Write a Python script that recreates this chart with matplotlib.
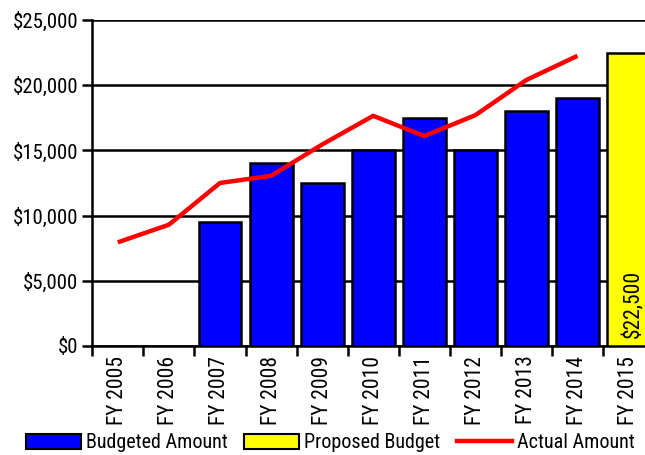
import matplotlib
matplotlib.use("Agg")
import matplotlib.pyplot as plt
from matplotlib.patches import Patch
from matplotlib.lines import Line2D

plt.rcParams['font.family'] = ['Roboto Condensed', 'DejaVu Sans']

categories = ["FY 2005", "FY 2006", "FY 2007", "FY 2008", "FY 2009", "FY 2010",
              "FY 2011", "FY 2012", "FY 2013", "FY 2014", "FY 2015"]
budgeted = [0, 0, 9500, 14000, 12500, 15000, 17500, 15000, 18000, 19000, 0]
proposed = [0, 0, 0, 0, 0, 0, 0, 0, 0, 0, 22500]
actual = [7950, 9300, 12500, 13050, 15450, 17650, 16100, 17700, 20400, 22250]
yticks = [0, 5000, 10000, 15000, 20000, 25000]
ytick_labels = ["$0", "$5,000", "$10,000", "$15,000", "$20,000", "$25,000"]

FS = 14.5
FSX = 15.5
fig = plt.figure(figsize=(6.45, 4.55), dpi=100)
ax = fig.add_axes([0.1431, 0.2396, 0.871, 0.7165])

x = list(range(len(categories)))
bw = 0.84
for i in x:
    if budgeted[i] > 0:
        ax.bar(i, budgeted[i], width=bw, color="#0000FF", edgecolor="black", linewidth=1.8, zorder=3)
    if proposed[i] > 0:
        ax.bar(i, proposed[i], width=bw, color="#FFFF00", edgecolor="black", linewidth=1.8, zorder=3)
        ax.text(i + 0.09, 600, "$22,500", rotation=90, ha="center", va="bottom",
                fontsize=FSX, zorder=5)

ax.plot(x[:len(actual)], actual, color="#FF0000", linewidth=3.2, zorder=4, solid_capstyle="butt")

ax.set_xlim(-0.5, len(categories) - 0.5)
ax.set_ylim(0, 25000)
ax.set_yticks(yticks)
ax.set_yticklabels(ytick_labels, fontsize=15)
ax.yaxis.grid(True, color="black", linewidth=1.8, zorder=0)
ax.set_axisbelow(True)

ax.set_xticks([i - 0.5 for i in x])
ax.set_xticklabels([])
ax.set_xticks(x, minor=True)
ax.set_xticklabels(categories, minor=True, rotation=90, fontsize=FSX)
ax.tick_params(axis="x", which="minor", length=0, pad=7)
ax.tick_params(axis="x", which="major", length=7, width=1.8, direction="out")
ax.tick_params(axis="y", length=7, width=1.8, direction="out", pad=3)

for s in ["top", "right"]:
    ax.spines[s].set_visible(False)
for s in ["left", "bottom"]:
    ax.spines[s].set_linewidth(1.8)

handles = [Patch(facecolor="#0000FF", edgecolor="black", linewidth=1.5),
           Patch(facecolor="#FFFF00", edgecolor="black", linewidth=1.5),
           Line2D([0], [0], color="#FF0000", linewidth=3.2)]
fig.legend(handles, ["Budgeted Amount", "Proposed Budget", "Actual Amount"],
           loc="center", bbox_to_anchor=(0.512, 0.027), ncol=3, frameon=False,
           fontsize=FS, handlelength=2.75, handleheight=0.75, handletextpad=0.25,
           columnspacing=0.8, borderpad=0.0, borderaxespad=0.0)

fig.savefig("out.png", dpi=100)
